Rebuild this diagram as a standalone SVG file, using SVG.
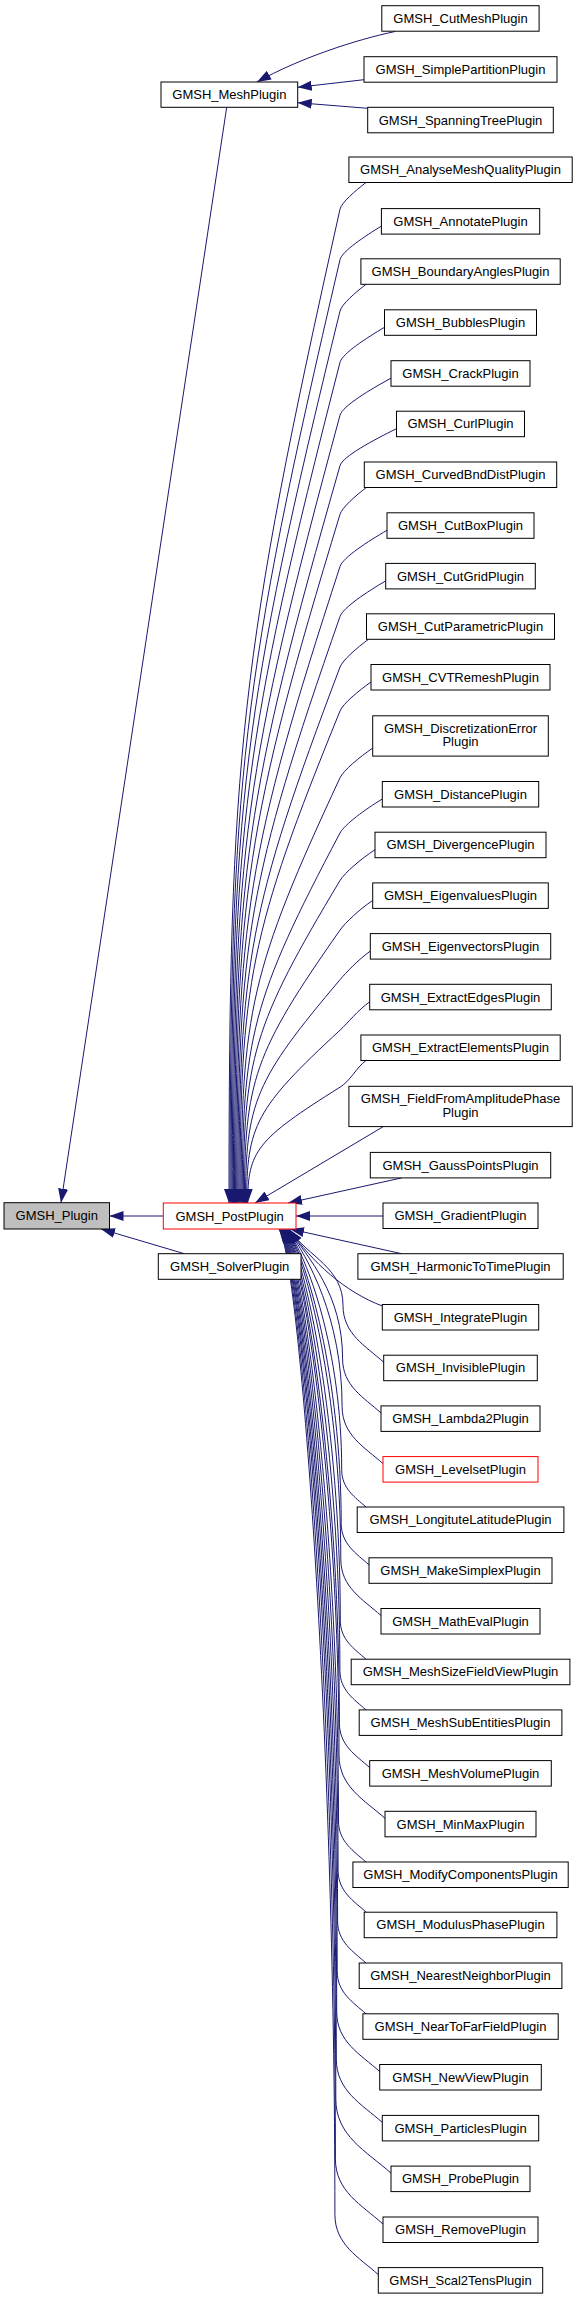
<svg xmlns="http://www.w3.org/2000/svg" width="577" height="2299" viewBox="0 0 577 2299">
<style>
.n rect{fill:#fff;stroke:#000;stroke-width:1}
.root rect{fill:#bfbfbf}
.trunc rect{stroke:#f00}
text{font-family:"Liberation Sans",Arial,Helvetica,sans-serif;font-size:13px;fill:#000;text-anchor:middle}
#edges path{fill:none;stroke:#191970;stroke-width:1;marker-end:url(#ah)}
</style>
<defs>
<marker id="ah" viewBox="0 0 14 10" refX="14" refY="5" markerWidth="14" markerHeight="10" markerUnits="userSpaceOnUse" orient="auto">
<path d="M0,0 L14,5 L0,10 z" fill="#191970"/>
</marker>
</defs>
<rect width="577" height="2299" fill="#fff"/>
<g id="edges">
<path d="M226.7,107.3 L61,1202.7"/>
<path d="M163.3,1216 L109.5,1216"/>
<path d="M184.3,1253.7 L101,1229"/>
<path d="M395,31.5 C355,40 300,58 257,82"/>
<path d="M364,79.7 L297.7,87.3"/>
<path d="M367.7,108.3 L297.7,102.7"/>
<path d="M366,182.5 C355.6,190.5 341.5,202.5 340,209.2 C240.1,656.4 229,755.8 229,1203"/>
<path d="M381.4,226.1 C364.8,236.2 342,251.3 340,259.7 C241.1,684.2 230.1,778.5 230.1,1203"/>
<path d="M366,284.3 C355.6,292.3 341.6,304.3 340,311 C242.1,712.4 231.2,801.6 231.2,1203"/>
<path d="M384.5,327.3 C366.7,337.8 342.2,353.6 340,362.3 C243.1,740.6 232.3,824.7 232.3,1203"/>
<path d="M391,378.2 C370.6,389.3 342.5,406 340,415.2 C244.1,769.7 233.4,848.5 233.4,1203"/>
<path d="M396.5,428.7 C373.9,439.8 342.6,456.5 340,465.7 C245.1,797.5 234.5,871.2 234.5,1203"/>
<path d="M366.3,487.5 C355.8,495.5 342,507.6 340,514.3 C246,824.2 235.6,893.1 235.6,1203"/>
<path d="M387,530.3 C368.2,541.2 342.9,557.5 340,566.5 C247,852.9 236.7,916.6 236.7,1203"/>
<path d="M385.7,580.9 C367.4,591.6 343.1,607.6 340,616.5 C248,880.4 237.8,939.1 237.8,1203"/>
<path d="M368.5,639.3 C357.1,647.6 342.6,660.2 340,667.1 C249,908.3 238.9,961.8 238.9,1203"/>
<path d="M371,682 C358.6,690.7 342.9,703.8 340,711 C250,932.4 240,981.6 240,1203"/>
<path d="M372.7,748.1 C359.6,757 343.4,770.4 340,777.8 C251,969.1 241.1,1011.7 241.1,1203"/>
<path d="M382.3,799 C365.4,809.2 344.5,824.5 340,833 C252,999.5 242.2,1036.5 242.2,1203"/>
<path d="M375,849.7 C361,858.9 344.6,872.8 340,880.5 C253,1025.6 243.3,1057.9 243.3,1203"/>
<path d="M372.7,900.4 C359.6,909.3 345.2,922.7 340,930.1 C254,1052.9 244.4,1080.2 244.4,1203"/>
<path d="M370.3,951.1 C358.2,959.7 346,972.6 340,979.7 C255,1080.2 245.5,1102.5 245.5,1203"/>
<path d="M369.7,1001.8 C357.8,1010.3 347.7,1023.1 340,1030.2 C255.9,1108 246.6,1125.2 246.6,1203"/>
<path d="M366,1060.5 C355.6,1068.5 350.7,1080.5 340,1087.2 C256.9,1139.3 247.7,1150.9 247.7,1203"/>
<path d="M383.3,1126.6 L255,1203"/>
<path d="M401.7,1177.9 L288,1203"/>
<path d="M383,1216 L296,1216"/>
<path d="M401.7,1253.7 L290,1229"/>
<path d="M382.3,1306 C345,1292 312,1262 289.5,1229.5"/>
<path d="M383.7,1362.2 C365.4,1345.9 343,1333.8 343,1305.4 C343,1267.5 309,1257.5 289,1229.5"/>
<path d="M381,1412.9 C363.7,1397.5 342.6,1385.9 342.6,1358.8 C342.6,1294.2 308.4,1257.5 288.4,1229.5"/>
<path d="M383,1463.6 C364.6,1447.2 342.1,1435.1 342.1,1406.5 C342.1,1318 307.9,1257.5 287.9,1229.5"/>
<path d="M366,1507 C355,1497.3 341.7,1488.4 341.7,1469.8 C341.7,1349.7 307.3,1257.5 287.3,1229.5"/>
<path d="M369,1564.8 C356.5,1553.7 341.2,1544.1 341.2,1523.4 C341.2,1376.5 306.8,1257.5 286.8,1229.5"/>
<path d="M381,1615.5 C362.9,1599.4 340.8,1587.4 340.8,1559.2 C340.8,1394.4 306.2,1257.5 286.2,1229.5"/>
<path d="M366,1659.2 C354.4,1648.9 340.3,1639.8 340.3,1620.4 C340.3,1425 305.7,1257.5 285.7,1229.5"/>
<path d="M366,1709.9 C354.2,1699.4 339.9,1690.2 339.9,1670.5 C339.9,1450 305.1,1257.5 285.1,1229.5"/>
<path d="M369.7,1767.6 C356.1,1755.5 339.4,1745.4 339.4,1723.2 C339.4,1476.4 304.6,1257.5 284.6,1229.5"/>
<path d="M385,1818.3 C364.3,1799.9 339,1786.7 339,1755 C339,1492.3 304,1257.5 284,1229.5"/>
<path d="M366,1862 C353.6,1851 338.5,1841.5 338.5,1821 C338.5,1525.3 303.5,1257.5 283.5,1229.5"/>
<path d="M366.2,1912.2 C353.5,1900.9 338.1,1891.3 338.1,1870.4 C338.1,1550 302.9,1257.5 282.9,1229.5"/>
<path d="M366,1963 C353.2,1951.6 337.6,1941.9 337.6,1920.9 C337.6,1575.2 302.4,1257.5 282.4,1229.5"/>
<path d="M366,2013.8 C353,2002.3 337.2,1992.5 337.2,1971.2 C337.2,1600.4 301.8,1257.5 281.8,1229.5"/>
<path d="M379.7,2071.5 C360.3,2054.3 336.7,2041.7 336.7,2011.9 C336.7,1620.7 301.3,1257.5 281.3,1229.5"/>
<path d="M382.3,2122.4 C361.6,2104 336.3,2090.8 336.3,2059.1 C336.3,1644.3 300.7,1257.5 280.7,1229.5"/>
<path d="M391,2173.1 C366.2,2151 335.8,2136 335.8,2098.9 C335.8,1664.2 300.2,1257.5 280.2,1229.5"/>
<path d="M383,2224 C361.6,2204.9 335.4,2191.4 335.4,2158.8 C335.4,1694.2 299.6,1257.5 279.6,1229.5"/>
<path d="M378.3,2274.6 C358.8,2257.2 334.9,2244.6 334.9,2214.5 C334.9,1722 299.1,1257.5 279.1,1229.5"/>
</g>
<g id="GMSH_Plugin" class="n root"><rect x="4" y="1202.7" width="105.5" height="26.3"/><text x="56.75" y="1220.35">GMSH_Plugin</text></g>
<g id="GMSH_MeshPlugin" class="n"><rect x="161" y="82" width="136.7" height="25.3"/><text x="229.35" y="99.15">GMSH_MeshPlugin</text></g>
<g id="GMSH_PostPlugin" class="n trunc"><rect x="163.3" y="1203" width="132.7" height="26"/><text x="229.65" y="1220.5">GMSH_PostPlugin</text></g>
<g id="GMSH_SolverPlugin" class="n"><rect x="158.3" y="1253.7" width="142.7" height="25.6"/><text x="229.65" y="1271">GMSH_SolverPlugin</text></g>
<g id="GMSH_CutMeshPlugin" class="n"><rect x="381.8" y="5.7" width="157.3" height="25.5"/><text x="460.5" y="22.95">GMSH_CutMeshPlugin</text></g>
<g id="GMSH_SimplePartitionPlugin" class="n"><rect x="364" y="56.7" width="193" height="25.5"/><text x="460.5" y="73.95">GMSH_SimplePartitionPlugin</text></g>
<g id="GMSH_SpanningTreePlugin" class="n"><rect x="367.7" y="107.3" width="185.6" height="25.5"/><text x="460.5" y="124.55">GMSH_SpanningTreePlugin</text></g>
<g id="GMSH_AnalyseMeshQualityPlugin" class="n"><rect x="348.9" y="157" width="223.3" height="25.5"/><text x="460.5" y="174.25">GMSH_AnalyseMeshQualityPlugin</text></g>
<g id="GMSH_AnnotatePlugin" class="n"><rect x="381.4" y="208.6" width="158.3" height="25.5"/><text x="460.5" y="225.85">GMSH_AnnotatePlugin</text></g>
<g id="GMSH_BoundaryAnglesPlugin" class="n"><rect x="360.9" y="258.8" width="199.3" height="25.5"/><text x="460.5" y="276.05">GMSH_BoundaryAnglesPlugin</text></g>
<g id="GMSH_BubblesPlugin" class="n"><rect x="384.5" y="309.8" width="152" height="25.5"/><text x="460.5" y="327.05">GMSH_BubblesPlugin</text></g>
<g id="GMSH_CrackPlugin" class="n"><rect x="391" y="360.7" width="139" height="25.5"/><text x="460.5" y="377.95">GMSH_CrackPlugin</text></g>
<g id="GMSH_CurlPlugin" class="n"><rect x="396.5" y="411.2" width="128" height="25.5"/><text x="460.5" y="428.45">GMSH_CurlPlugin</text></g>
<g id="GMSH_CurvedBndDistPlugin" class="n"><rect x="364.3" y="462" width="192.4" height="25.5"/><text x="460.5" y="479.25">GMSH_CurvedBndDistPlugin</text></g>
<g id="GMSH_CutBoxPlugin" class="n"><rect x="387" y="512.8" width="147" height="25.5"/><text x="460.5" y="530.05">GMSH_CutBoxPlugin</text></g>
<g id="GMSH_CutGridPlugin" class="n"><rect x="385.7" y="563.4" width="149.6" height="25.5"/><text x="460.5" y="580.65">GMSH_CutGridPlugin</text></g>
<g id="GMSH_CutParametricPlugin" class="n"><rect x="366.5" y="613.8" width="188" height="25.5"/><text x="460.5" y="631.05">GMSH_CutParametricPlugin</text></g>
<g id="GMSH_CVTRemeshPlugin" class="n"><rect x="371" y="664.5" width="179" height="25.5"/><text x="460.5" y="681.75">GMSH_CVTRemeshPlugin</text></g>
<g id="GMSH_DiscretizationErrorPlugin" class="n"><rect x="372.7" y="715.8" width="175.6" height="40.3"/><text x="460.5" y="732.5">GMSH_DiscretizationError</text><text x="460.5" y="746">Plugin</text></g>
<g id="GMSH_DistancePlugin" class="n"><rect x="382.3" y="781.5" width="156.4" height="25.5"/><text x="460.5" y="798.75">GMSH_DistancePlugin</text></g>
<g id="GMSH_DivergencePlugin" class="n"><rect x="375" y="832.2" width="171" height="25.5"/><text x="460.5" y="849.45">GMSH_DivergencePlugin</text></g>
<g id="GMSH_EigenvaluesPlugin" class="n"><rect x="372.7" y="882.9" width="175.6" height="25.5"/><text x="460.5" y="900.15">GMSH_EigenvaluesPlugin</text></g>
<g id="GMSH_EigenvectorsPlugin" class="n"><rect x="370.3" y="933.6" width="180.4" height="25.5"/><text x="460.5" y="950.85">GMSH_EigenvectorsPlugin</text></g>
<g id="GMSH_ExtractEdgesPlugin" class="n"><rect x="369.7" y="984.3" width="181.6" height="25.5"/><text x="460.5" y="1001.55">GMSH_ExtractEdgesPlugin</text></g>
<g id="GMSH_ExtractElementsPlugin" class="n"><rect x="360.9" y="1035" width="199.3" height="25.5"/><text x="460.5" y="1052.25">GMSH_ExtractElementsPlugin</text></g>
<g id="GMSH_FieldFromAmplitudePhasePlugin" class="n"><rect x="348.9" y="1086.3" width="223.3" height="40.3"/><text x="460.5" y="1103">GMSH_FieldFromAmplitudePhase</text><text x="460.5" y="1116.5">Plugin</text></g>
<g id="GMSH_GaussPointsPlugin" class="n"><rect x="370.3" y="1152.4" width="180.4" height="25.5"/><text x="460.5" y="1169.65">GMSH_GaussPointsPlugin</text></g>
<g id="GMSH_GradientPlugin" class="n"><rect x="383" y="1203" width="155" height="25.5"/><text x="460.5" y="1220.25">GMSH_GradientPlugin</text></g>
<g id="GMSH_HarmonicToTimePlugin" class="n"><rect x="357.9" y="1253.7" width="205.3" height="25.5"/><text x="460.5" y="1270.95">GMSH_HarmonicToTimePlugin</text></g>
<g id="GMSH_IntegratePlugin" class="n"><rect x="382.3" y="1304.5" width="156.4" height="25.5"/><text x="460.5" y="1321.75">GMSH_IntegratePlugin</text></g>
<g id="GMSH_InvisiblePlugin" class="n"><rect x="383.7" y="1355.2" width="153.6" height="25.5"/><text x="460.5" y="1372.45">GMSH_InvisiblePlugin</text></g>
<g id="GMSH_Lambda2Plugin" class="n"><rect x="381" y="1405.9" width="159" height="25.5"/><text x="460.5" y="1423.15">GMSH_Lambda2Plugin</text></g>
<g id="GMSH_LevelsetPlugin" class="n trunc"><rect x="383" y="1456.6" width="155" height="25.5"/><text x="460.5" y="1473.85">GMSH_LevelsetPlugin</text></g>
<g id="GMSH_LongituteLatitudePlugin" class="n"><rect x="357.2" y="1507" width="206.7" height="25.5"/><text x="460.5" y="1524.25">GMSH_LongituteLatitudePlugin</text></g>
<g id="GMSH_MakeSimplexPlugin" class="n"><rect x="369" y="1557.8" width="183" height="25.5"/><text x="460.5" y="1575.05">GMSH_MakeSimplexPlugin</text></g>
<g id="GMSH_MathEvalPlugin" class="n"><rect x="381" y="1608.5" width="159" height="25.5"/><text x="460.5" y="1625.75">GMSH_MathEvalPlugin</text></g>
<g id="GMSH_MeshSizeFieldViewPlugin" class="n"><rect x="351.2" y="1659.2" width="218.7" height="25.5"/><text x="460.5" y="1676.45">GMSH_MeshSizeFieldViewPlugin</text></g>
<g id="GMSH_MeshSubEntitiesPlugin" class="n"><rect x="359.2" y="1709.9" width="202.7" height="25.5"/><text x="460.5" y="1727.15">GMSH_MeshSubEntitiesPlugin</text></g>
<g id="GMSH_MeshVolumePlugin" class="n"><rect x="369.7" y="1760.6" width="181.6" height="25.5"/><text x="460.5" y="1777.85">GMSH_MeshVolumePlugin</text></g>
<g id="GMSH_MinMaxPlugin" class="n"><rect x="385" y="1811.3" width="151" height="25.5"/><text x="460.5" y="1828.55">GMSH_MinMaxPlugin</text></g>
<g id="GMSH_ModifyComponentsPlugin" class="n"><rect x="352.9" y="1862" width="215.3" height="25.5"/><text x="460.5" y="1879.25">GMSH_ModifyComponentsPlugin</text></g>
<g id="GMSH_ModulusPhasePlugin" class="n"><rect x="364.2" y="1912.2" width="192.7" height="25.5"/><text x="460.5" y="1929.45">GMSH_ModulusPhasePlugin</text></g>
<g id="GMSH_NearestNeighborPlugin" class="n"><rect x="359.2" y="1963" width="202.7" height="25.5"/><text x="460.5" y="1980.25">GMSH_NearestNeighborPlugin</text></g>
<g id="GMSH_NearToFarFieldPlugin" class="n"><rect x="362.9" y="2013.8" width="195.3" height="25.5"/><text x="460.5" y="2031.05">GMSH_NearToFarFieldPlugin</text></g>
<g id="GMSH_NewViewPlugin" class="n"><rect x="379.7" y="2064.5" width="161.6" height="25.5"/><text x="460.5" y="2081.75">GMSH_NewViewPlugin</text></g>
<g id="GMSH_ParticlesPlugin" class="n"><rect x="382.3" y="2115.4" width="156.4" height="25.5"/><text x="460.5" y="2132.65">GMSH_ParticlesPlugin</text></g>
<g id="GMSH_ProbePlugin" class="n"><rect x="391" y="2166.1" width="139" height="25.5"/><text x="460.5" y="2183.35">GMSH_ProbePlugin</text></g>
<g id="GMSH_RemovePlugin" class="n"><rect x="383" y="2217" width="155" height="25.5"/><text x="460.5" y="2234.25">GMSH_RemovePlugin</text></g>
<g id="GMSH_Scal2TensPlugin" class="n"><rect x="378.3" y="2267.6" width="164.4" height="25.5"/><text x="460.5" y="2284.85">GMSH_Scal2TensPlugin</text></g>
</svg>
